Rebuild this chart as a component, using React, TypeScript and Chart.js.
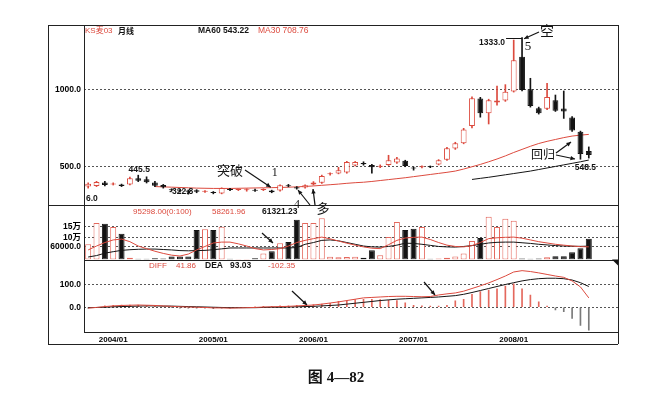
import React, { useEffect, useRef } from 'react';
import { Chart, registerables } from 'chart.js';

Chart.register(...registerables);

// ---------- data ----------
const MONTHS = [
  '2003/10', '2003/11', '2003/12',
  '2004/01', '2004/02', '2004/03', '2004/04', '2004/05', '2004/06', '2004/07', '2004/08', '2004/09', '2004/10', '2004/11', '2004/12',
  '2005/01', '2005/02', '2005/03', '2005/04', '2005/05', '2005/06', '2005/07', '2005/08', '2005/09', '2005/10', '2005/11', '2005/12',
  '2006/01', '2006/02', '2006/03', '2006/04', '2006/05', '2006/06', '2006/07', '2006/08', '2006/09', '2006/10', '2006/11', '2006/12',
  '2007/01', '2007/02', '2007/03', '2007/04', '2007/05', '2007/06', '2007/07', '2007/08', '2007/09', '2007/10', '2007/11', '2007/12',
  '2008/01', '2008/02', '2008/03', '2008/04', '2008/05', '2008/06', '2008/07', '2008/08', '2008/09', '2008/10',
];
const EMPTY_SLOTS = ['', '', ''];
const X_TICK_LABELS = ['2004/01', '2005/01', '2006/01', '2007/01', '2008/01'];

const OPEN = [372, 376, 399, 386, 386, 386, 425, 420, 398, 382, 354, 348, 346, 348, 338, 336, 328, 354, 350, 348, 348, 350, 346, 346, 380, 368, 366, 385, 396, 451, 457, 462, 508, 524, 512, 500, 512, 527, 538, 494, 496, 502, 515, 545, 618, 652, 763, 940, 846, 914, 928, 986, 1210, 1000, 877, 874, 930, 876, 818, 726, 602];
const HIGH = [396, 406, 406, 396, 388, 433, 445.5, 435, 405, 386, 358, 352, 350, 352, 346, 340, 364, 360, 358, 358, 356, 358, 349, 384, 386, 372, 384, 404, 446, 460, 496, 535, 534, 532, 515, 512, 574, 560, 542, 498, 506, 505, 546, 625, 658, 748, 952, 948, 936, 1021, 1030, 1318, 1333, 1071, 885, 1039, 963, 989, 824, 730, 628];
const LOW = [362, 372, 376, 382, 372, 382, 404, 395, 372, 362, 344, 336, 322.8, 332, 334, 325, 325, 345, 346, 342, 340, 346, 332, 343, 370, 355, 362, 382, 392, 446, 454, 458, 505, 510, 458, 494, 508, 522, 500, 478, 492, 494, 512, 540, 612, 648, 750, 820, 776, 898, 922, 982, 990, 885, 840, 868, 857, 812, 728, 548.5, 556];
const CLOSE = [390, 402, 382, 390, 376, 425, 410, 400, 378, 368, 348, 342, 338, 338, 341, 330, 362, 350, 354, 351, 345, 354, 336, 380, 374, 360, 380, 398, 440, 456, 478, 530, 530, 516, 497, 505, 542, 553, 505, 488, 500, 497, 542, 620, 652, 740, 942, 846, 930, 928, 984, 1188, 995, 892, 846, 950, 862, 856, 734, 583, 576];

const MA30 = [null, null, null, null, null, null, null, null, 372, 370, 368, 366, 364, 362, 361, 360, 360, 360, 361, 362, 363, 364, 365, 366, 368, 370, 373, 376, 380, 384, 388, 393, 397, 400, 405, 411, 417, 423, 429, 436, 443, 450, 457, 464, 472, 485, 500, 515, 532, 550, 570, 592, 612, 632, 650, 664, 676, 688, 698, 704, 708.76];
const MA60 = [null, null, null, null, null, null, null, null, null, null, null, null, null, null, null, null, null, null, null, null, null, null, null, null, null, null, null, null, null, null, null, null, null, null, null, null, null, null, null, null, null, null, null, null, null, null, 418, 425, 432, 440, 448, 456, 464, 472, 482, 492, 502, 512, 522, 532, 543.22];

const VOLUME = [70000, 168000, 165000, 150000, 118000, 8000, 3000, 3000, 6000, 5000, 14000, 14000, 14000, 136000, 139000, 136000, 151000, 3000, 2000, 2000, 6000, 28000, 38000, 75000, 80000, 183000, 168000, 168000, 190000, 13000, 10000, 12000, 13000, 8000, 42000, 20000, 103000, 172000, 136000, 141000, 150000, 4000, 5000, 8000, 14000, 28000, 85000, 99000, 197000, 150000, 188000, 178000, 5000, 3000, 5000, 10000, 15000, 15000, 33000, 52000, 95298];
const VOL_MA_RED = [44000, 62000, 78000, 90000, 94000, 82000, 62000, 50000, 38000, 28000, 20000, 16000, 25000, 44000, 60000, 76000, 80000, 80000, 72000, 62000, 50000, 44000, 46000, 50000, 62000, 78000, 88000, 96000, 103000, 95000, 85000, 75000, 66000, 58000, 52000, 50000, 68000, 88000, 99000, 102000, 103000, 92000, 78000, 66000, 60000, 58000, 64000, 78000, 96000, 100000, 102000, 103000, 98000, 90000, 82000, 76000, 70000, 66000, 62000, 59000, 58261.96];
const VOL_MA_BLACK = [11500, 18000, 29000, 36000, 42000, 45000, 47000, 48000, 48000, 46000, 44000, 41000, 40000, 41000, 42000, 45000, 49000, 53000, 53000, 53000, 53000, 53000, 53000, 53000, 53000, 55000, 70000, 78000, 88000, 90000, 86000, 78000, 70000, 62000, 58000, 57000, 60000, 66000, 75000, 74000, 70000, 65000, 60000, 58000, 57000, 60000, 64000, 70000, 76000, 79000, 80000, 80000, 77000, 74000, 70000, 67000, 64000, 62000, 61000, 60500, 61321.23];

const DIFF = [-4, -1, 3, 6, 8, 9, 10, 9, 8, 6, 4, 2, 1, 0, -1, -3, -3, -4, -3, -2, -1, 1, 2, 3, 4, 6, 8, 10, 14, 19, 24, 30, 36, 42, 44, 46, 48, 49, 49, 48, 47, 48, 55, 60, 64, 72, 84, 96, 109, 124, 140, 158, 164, 160, 154, 147, 140, 134, 118, 91, 41.86];
const DEA = [-2, -1, 0, 2, 3, 4, 5, 6, 6, 5, 5, 4, 3, 2, 1, 0, -1, -2, -2, -2, -2, -1, 0, 0, 1, 2, 3, 4, 6, 8, 10, 14, 18, 22, 26, 30, 33, 36, 38, 40, 42, 44, 46, 49, 52, 58, 66, 75, 84, 93, 102, 110, 118, 124, 128, 130, 130, 128, 122, 110, 93.03];
const MACD = [-4, 0, 6, 8, 10, 10, 10, 6, 4, 2, -2, -4, -4, -4, -4, -6, -4, -4, -2, 0, 2, 4, 4, 6, 6, 8, 10, 12, 14, 18, 26, 30, 34, 36, 36, 34, 32, 30, 20, 8, 6, 5, 5, 8, 29, 36, 58, 70, 77, 83, 95, 105, 82, 55, 24, 5, -12, -20, -50, -82, -102.35];

const PRICE_TICKS = [500, 1000];
const VOL_TICKS = [60000, 100000, 150000];
const VOL_TICK_TEXT: Record<number, string> = { 60000: '60000.0', 100000: '10万', 150000: '15万' };
const MACD_TICKS = [0, 100];

// ---------- style ----------
const RED = '#dc4a3e';
const LIGHT_RED = '#e4685d';
const BLACK = '#141414';
const GRAY = '#7a7a7a';
const SANS = '"Liberation Sans", Arial, "Noto Sans CJK SC", sans-serif';
const CJK = '"Noto Sans CJK SC", sans-serif';
const SERIF = '"Liberation Serif", "Noto Sans CJK SC", serif';
const TICK_FONT = { family: SANS, size: 8.5, weight: 'bold' as const };

function txt(ctx: CanvasRenderingContext2D, s: string, x: number, y: number, font: string, color: string, align: CanvasTextAlign = 'left') {
  ctx.font = font;
  ctx.fillStyle = color;
  ctx.textAlign = align;
  ctx.textBaseline = 'middle';
  ctx.fillText(s, x, y);
}

function arrow(ctx: CanvasRenderingContext2D, x1: number, y1: number, x2: number, y2: number, head = 5) {
  ctx.beginPath();
  ctx.moveTo(x1, y1);
  ctx.lineTo(x2, y2);
  ctx.stroke();
  const a = Math.atan2(y2 - y1, x2 - x1);
  ctx.beginPath();
  ctx.moveTo(x2, y2);
  ctx.lineTo(x2 - head * Math.cos(a - 0.45), y2 - head * Math.sin(a - 0.45));
  ctx.lineTo(x2 - head * Math.cos(a + 0.45), y2 - head * Math.sin(a + 0.45));
  ctx.closePath();
  ctx.fill();
}

const overlay = {
  id: 'overlay',
  afterDraw(chart: any) {
    const { ctx, chartArea: ca, scales } = chart;
    const xs = scales.x, ys = scales.y, yv = scales.yVol;
    const xp = (i: number) => xs.getPixelForValue(i);
    const yp = (v: number) => ys.getPixelForValue(v);
    const outerL = ca.left - 36;
    const outerB = xs.bottom;
    ctx.save();
    ctx.strokeStyle = '#222';
    ctx.lineWidth = 1;
    const hl = (y: number, x1: number, x2: number) => {
      ctx.beginPath(); ctx.moveTo(x1, Math.round(y) + 0.5); ctx.lineTo(x2, Math.round(y) + 0.5); ctx.stroke();
    };
    const vl = (x: number, y1: number, y2: number) => {
      ctx.beginPath(); ctx.moveTo(Math.round(x) + 0.5, y1); ctx.lineTo(Math.round(x) + 0.5, y2); ctx.stroke();
    };
    // frame
    hl(ca.top, outerL, ca.right);
    hl(outerB, outerL, ca.right);
    vl(outerL, ca.top, outerB);
    vl(ca.right, ca.top, outerB);
    vl(ca.left, ca.top, ca.bottom);
    hl(ys.bottom, outerL, ca.right);
    hl(yv.bottom, ca.left, ca.right);
    hl(ca.bottom, ca.left, ca.right);
    // small triangle marker
    ctx.fillStyle = BLACK;
    ctx.beginPath();
    ctx.moveTo(ca.right - 6, yv.bottom);
    ctx.lineTo(ca.right, yv.bottom);
    ctx.lineTo(ca.right, yv.bottom + 6);
    ctx.closePath();
    ctx.fill();

    // panel headers
    const f8 = `8px ${SANS}`;
    const f85 = `8.5px ${SANS}`;
    const b8 = `bold 8.5px ${SANS}`;
    txt(ctx, 'KS麦03', ca.left + 1, ca.top + 6, f8, RED);
    txt(ctx, '月线', ca.left + 34, ca.top + 6, `bold 8px ${CJK}`, BLACK);
    txt(ctx, 'MA60 543.22', ca.left + 114, ca.top + 6, b8, BLACK);
    txt(ctx, 'MA30 708.76', ca.left + 174, ca.top + 6, f85, RED);
    const vy = ys.bottom + 7;
    txt(ctx, '95298.00(0:100)', ca.left + 49, vy, f8, RED);
    txt(ctx, '58261.96', ca.left + 128, vy, f8, RED);
    txt(ctx, '61321.23', ca.left + 178, vy, b8, BLACK);
    const my = yv.bottom + 6;
    txt(ctx, 'DIFF', ca.left + 65, my, f8, RED);
    txt(ctx, '41.86', ca.left + 92, my, f8, RED);
    txt(ctx, 'DEA', ca.left + 121, my, b8, BLACK);
    txt(ctx, '93.03', ca.left + 146, my, b8, BLACK);
    txt(ctx, '-102.35', ca.left + 184, my, f8, RED);

    // price marks
    txt(ctx, '445.5', xp(6) + 1, yp(445.5) - 6, b8, BLACK, 'center');
    txt(ctx, '-322.8', xp(12) - 7, yp(322.8) - 3, b8, BLACK, 'center');
    const yTop = yp(1333);
    ctx.strokeStyle = BLACK;
    hl(yTop, xp(52) - 16, xp(52));
    txt(ctx, '1333.0', xp(52) - 17, yTop + 5, b8, BLACK, 'right');
    txt(ctx, '548.5', xp(59) + 5, yp(548.5) + 8, b8, BLACK, 'center');
    txt(ctx, '6.0', ca.left + 2, ys.bottom - 6, b8, BLACK);

    // hand annotations
    ctx.strokeStyle = BLACK;
    ctx.fillStyle = BLACK;
    ctx.lineWidth = 1.2;
    txt(ctx, '突破', 230, 170, `13px ${CJK}`, BLACK, 'center');
    arrow(ctx, 245, 170, xp(22) - 1, yp(HIGH[22]) - 3);
    txt(ctx, '1', xp(22) + 3, 173, `12px ${SERIF}`, BLACK, 'center');
    txt(ctx, '4', 297, 205, `12px ${SERIF}`, BLACK, 'center');
    txt(ctx, '多', 323, 208, `13px ${CJK}`, BLACK, 'center');
    arrow(ctx, 310, 205, 298, 190);
    arrow(ctx, 315, 205, 313, 189);
    txt(ctx, '空', 547, 31, `14px ${CJK}`, BLACK, 'center');
    arrow(ctx, 539, 32, xp(52) + 2, yTop + 1);
    txt(ctx, '5', xp(52) + 6, 47, `13px ${SERIF}`, BLACK, 'center');
    txt(ctx, '回归', 543, 154, `12px ${CJK}`, BLACK, 'center');
    arrow(ctx, 556, 153, 571, 142);
    arrow(ctx, 556, 155, 575, 159);
    arrow(ctx, 262, 233, 273, 243);
    arrow(ctx, 292, 291, 307, 305);
    arrow(ctx, 424, 282, 435, 295);

    // caption
    txt(ctx, '图 4—82', 336, 378, `bold 15px ${SERIF}`, BLACK, 'center');
    ctx.restore();
  },
};

export default function App() {
  const ref = useRef<HTMLCanvasElement>(null);
  useEffect(() => {
    const canvas = ref.current;
    if (!canvas) return;
    const up = CLOSE.map((c, i) => c >= OPEN[i]);
    const labels = [...MONTHS, ...EMPTY_SLOTS];
    const yAxisCommon = (extra: any) => ({
      type: 'linear',
      position: 'left',
      stack: 'panels',
      grid: { color: '#555', drawTicks: false, lineWidth: 1 },
      border: { display: false, dash: [2, 2] },
      afterFit: (s: any) => { s.width = 36; },
      ...extra,
    });
    const chart = new Chart(canvas, {
      type: 'bar',
      data: {
        labels,
        datasets: [
          { type: 'line', data: VOL_MA_RED, yAxisID: 'yVol', borderColor: RED, borderWidth: 1, pointRadius: 0, order: 0 },
          { type: 'line', data: VOL_MA_BLACK, yAxisID: 'yVol', borderColor: BLACK, borderWidth: 1, pointRadius: 0, order: 0 },
          { type: 'line', data: DIFF, yAxisID: 'yMacd', borderColor: RED, borderWidth: 1, pointRadius: 0, order: 0 },
          { type: 'line', data: DEA, yAxisID: 'yMacd', borderColor: BLACK, borderWidth: 1, pointRadius: 0, order: 0 },
          {
            type: 'bar', data: OPEN.map((o, i) => [o, CLOSE[i]]), yAxisID: 'y', grouped: false, order: 1,
            backgroundColor: up.map((u) => (u ? '#ffffff' : BLACK)), borderColor: up.map((u) => (u ? RED : BLACK)),
            borderWidth: 1, borderSkipped: false, minBarLength: 1, barPercentage: 0.7, categoryPercentage: 1,
          },
          {
            type: 'bar', data: LOW.map((l, i) => [l, HIGH[i]]), yAxisID: 'y', grouped: false, order: 2,
            backgroundColor: up.map((u) => (u ? RED : BLACK)), borderWidth: 0, maxBarThickness: 1,
            barPercentage: 1, categoryPercentage: 1,
          },
          { type: 'line', data: MA30, yAxisID: 'y', borderColor: RED, borderWidth: 1, pointRadius: 0, order: 3 },
          { type: 'line', data: MA60, yAxisID: 'y', borderColor: BLACK, borderWidth: 1, pointRadius: 0, order: 3 },
          {
            type: 'bar', data: VOLUME, yAxisID: 'yVol', grouped: false, order: 1,
            backgroundColor: up.map((u) => (u ? '#ffffff' : BLACK)), borderColor: up.map((u) => (u ? LIGHT_RED : BLACK)),
            borderWidth: 1, borderSkipped: false, barPercentage: 0.72, categoryPercentage: 1,
          },
          {
            type: 'bar', data: MACD, yAxisID: 'yMacd', grouped: false, order: 1,
            backgroundColor: MACD.map((v) => (v >= 0 ? LIGHT_RED : GRAY)), borderWidth: 0, maxBarThickness: 1,
            barPercentage: 1, categoryPercentage: 1,
          },
        ] as any,
      },
      options: {
        responsive: false,
        animation: false,
        devicePixelRatio: 1,
        events: [],
        layout: { padding: { left: 48, right: 52, top: 25, bottom: 57 } },
        plugins: { legend: { display: false }, tooltip: { enabled: false }, title: { display: false } },
        scales: {
          x: {
            type: 'category',
            offset: true,
            grid: { display: false, drawTicks: false },
            border: { display: false },
            ticks: {
              autoSkip: false, maxRotation: 0, minRotation: 0, padding: 3, color: '#000',
              font: { family: SANS, size: 8, weight: 'bold' },
              callback: (_v: any, i: number) => (X_TICK_LABELS.includes(labels[i]) ? labels[i] : ''),
            },
            afterFit: (s: any) => { s.height = 12; },
          },
          y: yAxisCommon({
            stackWeight: 180, weight: 3, min: 253, max: 1415,
            afterBuildTicks: (s: any) => { s.ticks = PRICE_TICKS.map((v) => ({ value: v })); },
            ticks: { color: '#000', padding: 3, font: TICK_FONT, callback: (v: any) => Number(v).toFixed(1) },
          }),
          yVol: yAxisCommon({
            stackWeight: 54.5, weight: 2, min: 0, max: 250700,
            afterBuildTicks: (s: any) => { s.ticks = VOL_TICKS.map((v) => ({ value: v })); },
            ticks: { color: '#000', padding: 3, font: TICK_FONT, callback: (v: any) => VOL_TICK_TEXT[Number(v)] ?? '' },
          }),
          yMacd: yAxisCommon({
            stackWeight: 72.5, weight: 1, min: -111, max: 214,
            afterBuildTicks: (s: any) => { s.ticks = MACD_TICKS.map((v) => ({ value: v })); },
            ticks: { color: '#000', padding: 3, font: TICK_FONT, callback: (v: any) => Number(v).toFixed(1) },
          }),
        },
      } as any,
      plugins: [overlay],
    });
    return () => chart.destroy();
  }, []);
  return (
    <div style={{ position: 'absolute', left: 0, top: 0, width: 670, height: 401, background: '#fff' }}>
      <canvas ref={ref} width={670} height={401} style={{ display: 'block' }} />
    </div>
  );
}
